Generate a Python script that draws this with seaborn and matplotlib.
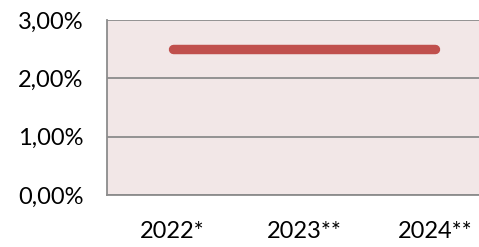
import pandas as pd
import matplotlib
matplotlib.use("Agg")
import matplotlib.pyplot as plt
import seaborn as sns
from matplotlib.ticker import FuncFormatter

years = ["2022*", "2023**", "2024**"]
rates = [2.5, 2.5, 2.5]

df = pd.DataFrame({"year": years, "rate": rates})

sns.set_style("white")
plt.rcParams["font.family"] = ["Lato", "DejaVu Sans"]

fig = plt.figure(figsize=(4.79, 2.47), dpi=100)
ax = fig.add_axes([107 / 479, 1 - 195 / 247, 394 / 479, 175 / 247])
ax.set_facecolor("#F2E7E7")

sns.lineplot(data=df, x="year", y="rate", ax=ax, color="#C0504D",
             linewidth=6.8, solid_capstyle="round", sort=False)

ax.set_ylim(0, 3)
ax.set_xlim(-0.5, 2.5)
ax.set_yticks([0, 1, 2, 3])
ax.yaxis.set_major_formatter(FuncFormatter(lambda v, p: f"{v:.2f}%".replace(".", ",")))
ax.grid(axis="y", color="#8C8C8C", linewidth=1.3)
ax.set_axisbelow(True)
for s in ["top", "right"]:
    ax.spines[s].set_visible(False)
for s in ["left", "bottom"]:
    ax.spines[s].set_color("#8C8C8C")
    ax.spines[s].set_linewidth(1.3)
ax.tick_params(axis="both", length=0, labelsize=17, colors="black")
ax.tick_params(axis="y", pad=17)
ax.tick_params(axis="x", pad=19)
ax.set_xlabel("")
ax.set_ylabel("")

fig.savefig("out.png", dpi=100)
